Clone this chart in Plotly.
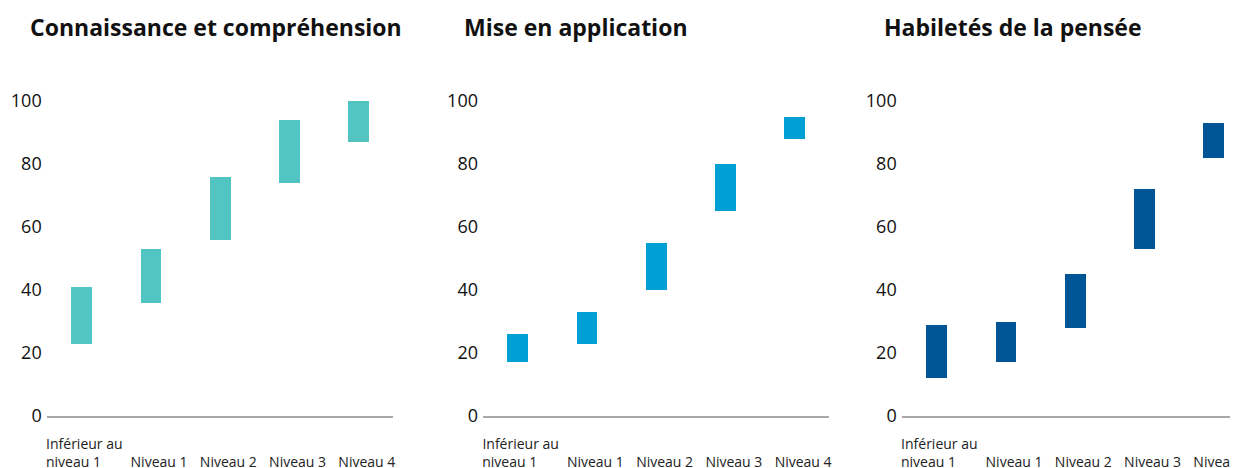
import plotly.graph_objects as go

categories = ["Inférieur au niveau 1", "Niveau 1", "Niveau 2", "Niveau 3", "Niveau 4"]
tick_labels = [
    "Inférieur au<br>niveau 1&nbsp;&nbsp;&nbsp;&nbsp;&nbsp;&nbsp;",
    "<br>&nbsp;&nbsp;&nbsp;Niveau 1",
    "<br>&nbsp;&nbsp;&nbsp;Niveau 2",
    "<br>&nbsp;&nbsp;&nbsp;Niveau 3",
    "<br>&nbsp;&nbsp;&nbsp;Niveau 4",
]
titles = ["Connaissance et compréhension", "Mise en application", "Habiletés de la pensée"]

connaissance_low = [23, 36, 56, 74, 87]
connaissance_high = [41, 53, 76, 94, 100]
application_low = [17, 23, 40, 65, 88]
application_high = [26, 33, 55, 80, 95]
pensee_low = [12, 17, 28, 53, 82]
pensee_high = [29, 30, 45, 72, 93]

colors = ["#52C5C3", "#009FD4", "#005596"]
y_ticks = [0, 20, 40, 60, 80, 100]

W, H = 1238, 468
FONT = "Open Sans"
OFF = 8  # page body margin offset

series = [
    (connaissance_low, connaissance_high),
    (application_low, application_high),
    (pensee_low, pensee_high),
]

# pixel geometry (window pixels, converted to paper pixels with OFF)
x_starts = [46.7 - OFF, 483.0 - OFF, 901.7 - OFF]
band = 69.26
y0_px, y100_px = 415.7 - OFF, 100.7 - OFF

fig = go.Figure()
xpos = list(range(len(categories)))
for i, ((lo, hi), col) in enumerate(zip(series, colors)):
    sfx = "" if i == 0 else str(i + 1)
    fig.add_trace(go.Bar(
        x=xpos, y=[h - l for l, h in zip(lo, hi)], base=lo,
        width=0.3, marker=dict(color=col, line=dict(width=0)),
        xaxis="x" + sfx, yaxis="y" + sfx, showlegend=False,
        hoverinfo="skip",
    ))
    x_end = min(x_starts[i] + 5 * band, W)
    rng_end = -0.5 + (x_end - x_starts[i]) / band
    dom = [x_starts[i] / W, x_end / W]
    ydom = [(H - y0_px) / H, (H - y100_px) / H]
    fig.layout["xaxis" + sfx] = dict(
        domain=dom, range=[-0.5, rng_end], anchor="y" + sfx,
        tickvals=xpos, ticktext=tick_labels, showgrid=False, zeroline=False,
        showline=True, linecolor="#A8A8A8", linewidth=2, ticks="",
        tickfont=dict(family=FONT, size=14, color="#222222"),
        tickangle=0, ticklabelstandoff=14, ticklabelshift=3, fixedrange=True,
        automargin=False, ticklabeloverflow="allow",
    )
    fig.layout["yaxis" + sfx] = dict(
        domain=ydom, range=[0, 100], anchor="x" + sfx,
        tickvals=y_ticks, showgrid=False, zeroline=False, showline=False,
        ticks="", tickfont=dict(family=FONT, size=18, color="#111111"),
        ticklabelstandoff=4, fixedrange=True, automargin=False,
    )

title_x = [28 - OFF, 462 - OFF, 882 - OFF]
for tx, t in zip(title_x, titles):
    fig.add_annotation(
        text="<b>" + t + "</b>", xref="paper", yref="paper",
        x=tx / W, y=1 - (27 - OFF) / H, xanchor="left", yanchor="middle",
        showarrow=False, font=dict(family=FONT, size=23, color="#111111"),
    )

fig.update_layout(
    width=W, height=H, margin=dict(l=0, r=0, t=0, b=0),
    paper_bgcolor="white", plot_bgcolor="white", bargap=0,
)

fig.write_html("out.html", config={"displayModeBar": False})
